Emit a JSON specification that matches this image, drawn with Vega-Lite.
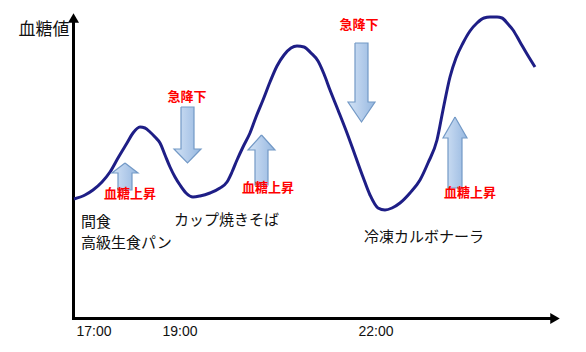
{
  "$schema": "https://vega.github.io/schema/vega-lite/v6.json",
  "width": 586,
  "height": 352,
  "padding": 0,
  "autosize": {"type": "fit", "contains": "padding"},
  "background": "white",
  "config": {"view": {"stroke": null}},
  "datasets": {
    "curve": [
      {"x": 74, "y": 199}, {"x": 85, "y": 195}, {"x": 93, "y": 190}, {"x": 102, "y": 182},
      {"x": 110, "y": 172}, {"x": 118, "y": 158}, {"x": 127, "y": 143}, {"x": 133, "y": 133},
      {"x": 140, "y": 127}, {"x": 145, "y": 128}, {"x": 150, "y": 132}, {"x": 155, "y": 137},
      {"x": 160, "y": 143}, {"x": 165, "y": 155}, {"x": 170, "y": 167}, {"x": 175, "y": 177},
      {"x": 180, "y": 185}, {"x": 186, "y": 193}, {"x": 193, "y": 197}, {"x": 200, "y": 196},
      {"x": 210, "y": 193}, {"x": 220, "y": 188}, {"x": 227, "y": 182}, {"x": 232, "y": 172},
      {"x": 237, "y": 160}, {"x": 243, "y": 147}, {"x": 250, "y": 133}, {"x": 256, "y": 117},
      {"x": 263, "y": 100}, {"x": 270, "y": 82}, {"x": 277, "y": 66}, {"x": 284, "y": 55},
      {"x": 291, "y": 48}, {"x": 297, "y": 46}, {"x": 304, "y": 47}, {"x": 311, "y": 53},
      {"x": 318, "y": 61}, {"x": 324, "y": 74}, {"x": 330, "y": 90}, {"x": 338, "y": 110},
      {"x": 347, "y": 133}, {"x": 355, "y": 155}, {"x": 363, "y": 177}, {"x": 370, "y": 195},
      {"x": 378, "y": 208}, {"x": 385, "y": 210}, {"x": 392, "y": 208}, {"x": 400, "y": 203},
      {"x": 410, "y": 193}, {"x": 420, "y": 180}, {"x": 428, "y": 163}, {"x": 437, "y": 140},
      {"x": 443, "y": 110}, {"x": 450, "y": 77}, {"x": 456, "y": 58}, {"x": 463, "y": 43},
      {"x": 470, "y": 31}, {"x": 477, "y": 23}, {"x": 484, "y": 18}, {"x": 490, "y": 17},
      {"x": 497, "y": 17}, {"x": 502, "y": 18}, {"x": 508, "y": 24}, {"x": 513, "y": 30},
      {"x": 520, "y": 42}, {"x": 527, "y": 54}, {"x": 535, "y": 67}
    ],
    "arrows": [
      {"id": "up1", "i": 1, "x": 125, "y": 163},
      {"id": "up1", "i": 2, "x": 138, "y": 173},
      {"id": "up1", "i": 3, "x": 132, "y": 173},
      {"id": "up1", "i": 4, "x": 132, "y": 190},
      {"id": "up1", "i": 5, "x": 118, "y": 190},
      {"id": "up1", "i": 6, "x": 118, "y": 173},
      {"id": "up1", "i": 7, "x": 112, "y": 173},
      {"id": "up1", "i": 8, "x": 125, "y": 163},
      {"id": "up2", "i": 1, "x": 261.5, "y": 135},
      {"id": "up2", "i": 2, "x": 275, "y": 150},
      {"id": "up2", "i": 3, "x": 268, "y": 150},
      {"id": "up2", "i": 4, "x": 268, "y": 185},
      {"id": "up2", "i": 5, "x": 255, "y": 185},
      {"id": "up2", "i": 6, "x": 255, "y": 150},
      {"id": "up2", "i": 7, "x": 248, "y": 150},
      {"id": "up2", "i": 8, "x": 261.5, "y": 135},
      {"id": "up3", "i": 1, "x": 455, "y": 117},
      {"id": "up3", "i": 2, "x": 467, "y": 138},
      {"id": "up3", "i": 3, "x": 462, "y": 138},
      {"id": "up3", "i": 4, "x": 462, "y": 188},
      {"id": "up3", "i": 5, "x": 448, "y": 188},
      {"id": "up3", "i": 6, "x": 448, "y": 138},
      {"id": "up3", "i": 7, "x": 443, "y": 138},
      {"id": "up3", "i": 8, "x": 455, "y": 117},
      {"id": "down1", "i": 1, "x": 181, "y": 107},
      {"id": "down1", "i": 2, "x": 194, "y": 107},
      {"id": "down1", "i": 3, "x": 194, "y": 149},
      {"id": "down1", "i": 4, "x": 201, "y": 149},
      {"id": "down1", "i": 5, "x": 187.5, "y": 163},
      {"id": "down1", "i": 6, "x": 174, "y": 149},
      {"id": "down1", "i": 7, "x": 181, "y": 149},
      {"id": "down1", "i": 8, "x": 181, "y": 107},
      {"id": "down2", "i": 1, "x": 355, "y": 43},
      {"id": "down2", "i": 2, "x": 368, "y": 43},
      {"id": "down2", "i": 3, "x": 368, "y": 102},
      {"id": "down2", "i": 4, "x": 375, "y": 102},
      {"id": "down2", "i": 5, "x": 361.5, "y": 122},
      {"id": "down2", "i": 6, "x": 348, "y": 102},
      {"id": "down2", "i": 7, "x": 355, "y": 102},
      {"id": "down2", "i": 8, "x": 355, "y": 43}
    ],
    "labels": [
      {"kind": "title", "text": "血糖値", "x": 44, "y": 30},
      {"kind": "tick", "text": "17:00", "x": 94, "y": 332},
      {"kind": "tick", "text": "19:00", "x": 180, "y": 332},
      {"kind": "tick", "text": "22:00", "x": 376, "y": 332},
      {"kind": "food", "text": "間食", "x": 81, "y": 222},
      {"kind": "food", "text": "高級生食パン", "x": 81, "y": 243},
      {"kind": "food", "text": "カップ焼きそば", "x": 174, "y": 220},
      {"kind": "food", "text": "冷凍カルボナーラ", "x": 364, "y": 237},
      {"kind": "red", "text": "急降下", "x": 187, "y": 97},
      {"kind": "red", "text": "急降下", "x": 359, "y": 25},
      {"kind": "red", "text": "血糖上昇", "x": 130, "y": 194},
      {"kind": "red", "text": "血糖上昇", "x": 268, "y": 188},
      {"kind": "red", "text": "血糖上昇", "x": 470, "y": 193}
    ],
    "axes": [
      {"x": 73.5, "x2": 73.5, "y": 20, "y2": 320},
      {"x": 72, "x2": 553, "y": 318.5, "y2": 318.5}
    ],
    "heads": [
      {"dir": "up", "x": 73.5, "y": 18},
      {"dir": "right", "x": 555, "y": 318.5}
    ]
  },
  "layer": [
    {
      "data": {"name": "axes"},
      "mark": {"type": "rule", "color": "black", "strokeWidth": 3},
      "encoding": {
        "x": {"field": "x", "type": "quantitative", "scale": {"domain": [0, 586], "nice": false, "zero": false}, "axis": null},
        "x2": {"field": "x2"},
        "y": {"field": "y", "type": "quantitative", "scale": {"domain": [0, 352], "nice": false, "zero": false, "reverse": true}, "axis": null},
        "y2": {"field": "y2"}
      }
    },
    {
      "data": {"name": "heads"},
      "transform": [{"filter": "datum.dir === 'up'"}],
      "mark": {"type": "point", "shape": "triangle-up", "filled": true, "color": "black", "size": 121, "opacity": 1},
      "encoding": {
        "x": {"field": "x", "type": "quantitative"},
        "y": {"field": "y", "type": "quantitative"}
      }
    },
    {
      "data": {"name": "heads"},
      "transform": [{"filter": "datum.dir === 'right'"}],
      "mark": {"type": "point", "shape": "triangle-right", "filled": true, "color": "black", "size": 121, "opacity": 1},
      "encoding": {
        "x": {"field": "x", "type": "quantitative"},
        "y": {"field": "y", "type": "quantitative"}
      }
    },
    {
      "data": {"name": "curve"},
      "mark": {"type": "line", "color": "#1E1E86", "strokeWidth": 3, "interpolate": "monotone"},
      "encoding": {
        "x": {"field": "x", "type": "quantitative"},
        "y": {"field": "y", "type": "quantitative"}
      }
    },
    {
      "data": {"name": "arrows"},
      "mark": {
        "type": "line",
        "filled": true,
        "fill": {"gradient": "linear", "x1": 0, "y1": 0, "x2": 1, "y2": 0, "stops": [{"offset": 0, "color": "#D3E3F5"}, {"offset": 0.5, "color": "#B5CDEB"}, {"offset": 1, "color": "#96B8E0"}]},
        "stroke": "#7399C6",
        "strokeWidth": 1.2,
        "strokeJoin": "miter",
        "opacity": 1
      },
      "encoding": {
        "x": {"field": "x", "type": "quantitative"},
        "y": {"field": "y", "type": "quantitative"},
        "detail": {"field": "id"},
        "order": {"field": "i", "type": "quantitative"}
      }
    },
    {
      "data": {"name": "labels"},
      "transform": [{"filter": "datum.kind === 'title'"}],
      "mark": {"type": "text", "font": "Noto Sans CJK JP", "fontSize": 17, "color": "#111111", "align": "center", "baseline": "middle"},
      "encoding": {
        "x": {"field": "x", "type": "quantitative"},
        "y": {"field": "y", "type": "quantitative"},
        "text": {"field": "text"}
      }
    },
    {
      "data": {"name": "labels"},
      "transform": [{"filter": "datum.kind === 'tick'"}],
      "mark": {"type": "text", "font": "Liberation Sans", "fontSize": 14, "color": "#111111", "align": "center", "baseline": "middle"},
      "encoding": {
        "x": {"field": "x", "type": "quantitative"},
        "y": {"field": "y", "type": "quantitative"},
        "text": {"field": "text"}
      }
    },
    {
      "data": {"name": "labels"},
      "transform": [{"filter": "datum.kind === 'food'"}],
      "mark": {"type": "text", "font": "Noto Sans CJK JP", "fontSize": 15, "color": "#111111", "align": "left", "baseline": "middle"},
      "encoding": {
        "x": {"field": "x", "type": "quantitative"},
        "y": {"field": "y", "type": "quantitative"},
        "text": {"field": "text"}
      }
    },
    {
      "data": {"name": "labels"},
      "transform": [{"filter": "datum.kind === 'red'"}],
      "mark": {"type": "text", "font": "Noto Sans CJK JP", "fontSize": 13, "fontWeight": "bold", "color": "#FF0000", "align": "center", "baseline": "middle"},
      "encoding": {
        "x": {"field": "x", "type": "quantitative"},
        "y": {"field": "y", "type": "quantitative"},
        "text": {"field": "text"}
      }
    }
  ]
}
